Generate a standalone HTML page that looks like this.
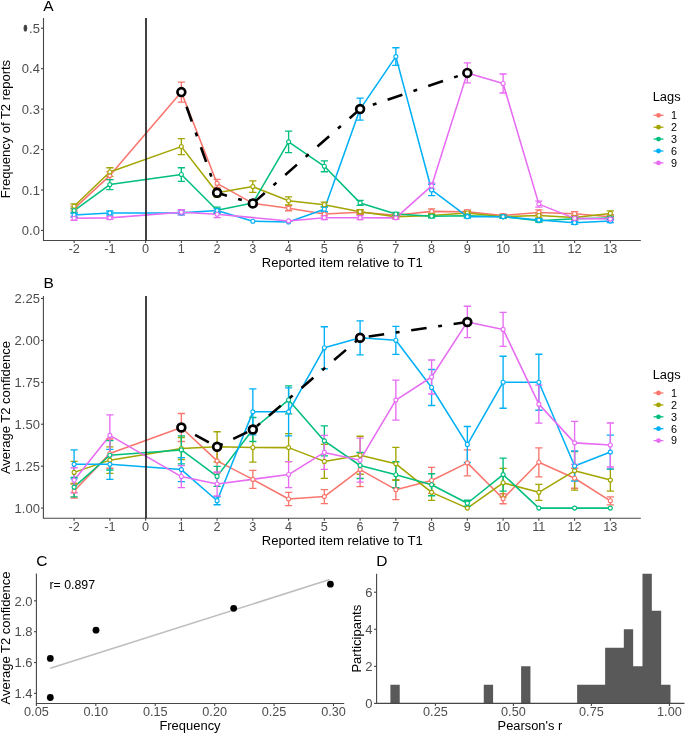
<!DOCTYPE html>
<html><head><meta charset="utf-8"><style>
html,body{margin:0;padding:0;background:#fff;width:685px;height:733px;overflow:hidden}
svg{display:block;will-change:transform}
text{font-family:"Liberation Sans",sans-serif}
</style></head><body>
<svg width="685" height="733" viewBox="0 0 685 733" font-family="Liberation Sans, sans-serif">
<rect width="685" height="733" fill="#fff"/>
<text x="43.30" y="10.90" font-size="15.5" fill="#000" text-anchor="start" >A</text>
<path d="M43.50,18.00 V240.50 H640.80" fill="none" stroke="#474747" stroke-width="1.1"/>
<line x1="41" y1="230.40" x2="43.5" y2="230.40" stroke="#474747" stroke-width="1.1"/>
<text x="39.90" y="235.10" font-size="13" fill="#4D4D4D" text-anchor="end" >0.0</text>
<line x1="41" y1="189.96" x2="43.5" y2="189.96" stroke="#474747" stroke-width="1.1"/>
<text x="39.90" y="194.66" font-size="13" fill="#4D4D4D" text-anchor="end" >0.1</text>
<line x1="41" y1="149.52" x2="43.5" y2="149.52" stroke="#474747" stroke-width="1.1"/>
<text x="39.90" y="154.22" font-size="13" fill="#4D4D4D" text-anchor="end" >0.2</text>
<line x1="41" y1="109.08" x2="43.5" y2="109.08" stroke="#474747" stroke-width="1.1"/>
<text x="39.90" y="113.78" font-size="13" fill="#4D4D4D" text-anchor="end" >0.3</text>
<line x1="41" y1="68.64" x2="43.5" y2="68.64" stroke="#474747" stroke-width="1.1"/>
<text x="39.90" y="73.34" font-size="13" fill="#4D4D4D" text-anchor="end" >0.4</text>
<line x1="41" y1="28.20" x2="43.5" y2="28.20" stroke="#474747" stroke-width="1.1"/>
<text x="39.90" y="32.90" font-size="13" fill="#4D4D4D" text-anchor="end" >.5</text>
<ellipse cx="25.4" cy="28.20" rx="1.8" ry="3.4" fill="#444"/>
<line x1="74.10" y1="240.5" x2="74.10" y2="243" stroke="#474747" stroke-width="1.1"/>
<text x="74.10" y="252.90" font-size="12.7" fill="#4D4D4D" text-anchor="middle" >-2</text>
<line x1="109.85" y1="240.5" x2="109.85" y2="243" stroke="#474747" stroke-width="1.1"/>
<text x="109.85" y="252.90" font-size="12.7" fill="#4D4D4D" text-anchor="middle" >-1</text>
<line x1="145.60" y1="240.5" x2="145.60" y2="243" stroke="#474747" stroke-width="1.1"/>
<text x="145.60" y="252.90" font-size="12.7" fill="#4D4D4D" text-anchor="middle" >0</text>
<line x1="181.35" y1="240.5" x2="181.35" y2="243" stroke="#474747" stroke-width="1.1"/>
<text x="181.35" y="252.90" font-size="12.7" fill="#4D4D4D" text-anchor="middle" >1</text>
<line x1="217.10" y1="240.5" x2="217.10" y2="243" stroke="#474747" stroke-width="1.1"/>
<text x="217.10" y="252.90" font-size="12.7" fill="#4D4D4D" text-anchor="middle" >2</text>
<line x1="252.85" y1="240.5" x2="252.85" y2="243" stroke="#474747" stroke-width="1.1"/>
<text x="252.85" y="252.90" font-size="12.7" fill="#4D4D4D" text-anchor="middle" >3</text>
<line x1="288.60" y1="240.5" x2="288.60" y2="243" stroke="#474747" stroke-width="1.1"/>
<text x="288.60" y="252.90" font-size="12.7" fill="#4D4D4D" text-anchor="middle" >4</text>
<line x1="324.35" y1="240.5" x2="324.35" y2="243" stroke="#474747" stroke-width="1.1"/>
<text x="324.35" y="252.90" font-size="12.7" fill="#4D4D4D" text-anchor="middle" >5</text>
<line x1="360.10" y1="240.5" x2="360.10" y2="243" stroke="#474747" stroke-width="1.1"/>
<text x="360.10" y="252.90" font-size="12.7" fill="#4D4D4D" text-anchor="middle" >6</text>
<line x1="395.85" y1="240.5" x2="395.85" y2="243" stroke="#474747" stroke-width="1.1"/>
<text x="395.85" y="252.90" font-size="12.7" fill="#4D4D4D" text-anchor="middle" >7</text>
<line x1="431.60" y1="240.5" x2="431.60" y2="243" stroke="#474747" stroke-width="1.1"/>
<text x="431.60" y="252.90" font-size="12.7" fill="#4D4D4D" text-anchor="middle" >8</text>
<line x1="467.35" y1="240.5" x2="467.35" y2="243" stroke="#474747" stroke-width="1.1"/>
<text x="467.35" y="252.90" font-size="12.7" fill="#4D4D4D" text-anchor="middle" >9</text>
<line x1="503.10" y1="240.5" x2="503.10" y2="243" stroke="#474747" stroke-width="1.1"/>
<text x="503.10" y="252.90" font-size="12.7" fill="#4D4D4D" text-anchor="middle" >10</text>
<line x1="538.85" y1="240.5" x2="538.85" y2="243" stroke="#474747" stroke-width="1.1"/>
<text x="538.85" y="252.90" font-size="12.7" fill="#4D4D4D" text-anchor="middle" >11</text>
<line x1="574.60" y1="240.5" x2="574.60" y2="243" stroke="#474747" stroke-width="1.1"/>
<text x="574.60" y="252.90" font-size="12.7" fill="#4D4D4D" text-anchor="middle" >12</text>
<line x1="610.35" y1="240.5" x2="610.35" y2="243" stroke="#474747" stroke-width="1.1"/>
<text x="610.35" y="252.90" font-size="12.7" fill="#4D4D4D" text-anchor="middle" >13</text>
<path d="M74.10,208.56 L109.85,175.60 L181.35,92.10 L217.10,183.41 L252.85,203.39 L288.60,208.28 L324.35,213.90 L360.10,212.20 L395.85,215.19 L431.60,211.39 L467.35,211.80 L503.10,215.44 L538.85,212.40 L574.60,213.70 L610.35,216.65" fill="none" stroke="#F8766D" stroke-width="1.55" stroke-linejoin="round"/>
<path d="M74.10,206.30 L109.85,172.00 L181.35,146.61 L217.10,192.71 L252.85,186.60 L288.60,200.80 L324.35,204.68 L360.10,211.72 L395.85,216.65 L431.60,215.44 L467.35,213.01 L503.10,216.65 L538.85,215.44 L574.60,217.46 L610.35,213.42" fill="none" stroke="#A3A500" stroke-width="1.55" stroke-linejoin="round"/>
<path d="M74.10,210.58 L109.85,184.58 L181.35,174.51 L217.10,210.18 L252.85,202.90 L288.60,141.84 L324.35,166.30 L360.10,202.90 L395.85,213.98 L431.60,216.25 L467.35,215.84 L503.10,216.65 L538.85,220.69 L574.60,218.67 L610.35,217.98" fill="none" stroke="#00BF7D" stroke-width="1.55" stroke-linejoin="round"/>
<path d="M74.10,215.03 L109.85,213.01 L181.35,212.89 L217.10,210.58 L252.85,221.30 L288.60,221.91 L324.35,209.21 L360.10,109.08 L395.85,56.59 L431.60,189.96 L467.35,216.65 L503.10,216.65 L538.85,220.09 L574.60,222.72 L610.35,221.10" fill="none" stroke="#00B0F6" stroke-width="1.55" stroke-linejoin="round"/>
<path d="M74.10,218.27 L109.85,217.86 L181.35,212.28 L217.10,214.22 L288.60,220.90 L324.35,217.66 L360.10,217.66 L395.85,217.86 L431.60,185.92 L467.35,72.89 L503.10,83.48 L538.85,204.11 L574.60,218.39 L610.35,219.08" fill="none" stroke="#E76BF3" stroke-width="1.55" stroke-linejoin="round"/>
<path d="M74.10,206.06 V211.06 M70.50,206.06 H77.70 M70.50,211.06 H77.70" fill="none" stroke="#F8766D" stroke-width="1.35"/>
<path d="M109.85,171.60 V179.60 M106.25,171.60 H113.45 M106.25,179.60 H113.45" fill="none" stroke="#F8766D" stroke-width="1.35"/>
<path d="M181.35,82.10 V102.10 M177.75,82.10 H184.95 M177.75,102.10 H184.95" fill="none" stroke="#F8766D" stroke-width="1.35"/>
<path d="M217.10,179.41 V187.41 M213.50,179.41 H220.70 M213.50,187.41 H220.70" fill="none" stroke="#F8766D" stroke-width="1.35"/>
<path d="M252.85,199.89 V206.89 M249.25,199.89 H256.45 M249.25,206.89 H256.45" fill="none" stroke="#F8766D" stroke-width="1.35"/>
<path d="M288.60,205.78 V210.78 M285.00,205.78 H292.20 M285.00,210.78 H292.20" fill="none" stroke="#F8766D" stroke-width="1.35"/>
<path d="M324.35,211.90 V215.90 M320.75,211.90 H327.95 M320.75,215.90 H327.95" fill="none" stroke="#F8766D" stroke-width="1.35"/>
<path d="M360.10,210.20 V214.20 M356.50,210.20 H363.70 M356.50,214.20 H363.70" fill="none" stroke="#F8766D" stroke-width="1.35"/>
<path d="M395.85,213.69 V216.69 M392.25,213.69 H399.45 M392.25,216.69 H399.45" fill="none" stroke="#F8766D" stroke-width="1.35"/>
<path d="M431.60,208.89 V213.89 M428.00,208.89 H435.20 M428.00,213.89 H435.20" fill="none" stroke="#F8766D" stroke-width="1.35"/>
<path d="M467.35,209.80 V213.80 M463.75,209.80 H470.95 M463.75,213.80 H470.95" fill="none" stroke="#F8766D" stroke-width="1.35"/>
<path d="M503.10,213.94 V216.94 M499.50,213.94 H506.70 M499.50,216.94 H506.70" fill="none" stroke="#F8766D" stroke-width="1.35"/>
<path d="M538.85,209.90 V214.90 M535.25,209.90 H542.45 M535.25,214.90 H542.45" fill="none" stroke="#F8766D" stroke-width="1.35"/>
<path d="M574.60,211.70 V215.70 M571.00,211.70 H578.20 M571.00,215.70 H578.20" fill="none" stroke="#F8766D" stroke-width="1.35"/>
<path d="M610.35,214.65 V218.65 M606.75,214.65 H613.95 M606.75,218.65 H613.95" fill="none" stroke="#F8766D" stroke-width="1.35"/>
<path d="M74.10,203.80 V208.80 M70.50,203.80 H77.70 M70.50,208.80 H77.70" fill="none" stroke="#A3A500" stroke-width="1.35"/>
<path d="M109.85,167.70 V176.30 M106.25,167.70 H113.45 M106.25,176.30 H113.45" fill="none" stroke="#A3A500" stroke-width="1.35"/>
<path d="M181.35,138.61 V154.61 M177.75,138.61 H184.95 M177.75,154.61 H184.95" fill="none" stroke="#A3A500" stroke-width="1.35"/>
<path d="M217.10,188.71 V196.71 M213.50,188.71 H220.70 M213.50,196.71 H220.70" fill="none" stroke="#A3A500" stroke-width="1.35"/>
<path d="M252.85,180.80 V192.40 M249.25,180.80 H256.45 M249.25,192.40 H256.45" fill="none" stroke="#A3A500" stroke-width="1.35"/>
<path d="M288.60,196.80 V204.80 M285.00,196.80 H292.20 M285.00,204.80 H292.20" fill="none" stroke="#A3A500" stroke-width="1.35"/>
<path d="M324.35,202.18 V207.18 M320.75,202.18 H327.95 M320.75,207.18 H327.95" fill="none" stroke="#A3A500" stroke-width="1.35"/>
<path d="M360.10,209.72 V213.72 M356.50,209.72 H363.70 M356.50,213.72 H363.70" fill="none" stroke="#A3A500" stroke-width="1.35"/>
<path d="M395.85,215.15 V218.15 M392.25,215.15 H399.45 M392.25,218.15 H399.45" fill="none" stroke="#A3A500" stroke-width="1.35"/>
<path d="M431.60,213.44 V217.44 M428.00,213.44 H435.20 M428.00,217.44 H435.20" fill="none" stroke="#A3A500" stroke-width="1.35"/>
<path d="M467.35,211.01 V215.01 M463.75,211.01 H470.95 M463.75,215.01 H470.95" fill="none" stroke="#A3A500" stroke-width="1.35"/>
<path d="M503.10,215.15 V218.15 M499.50,215.15 H506.70 M499.50,218.15 H506.70" fill="none" stroke="#A3A500" stroke-width="1.35"/>
<path d="M538.85,212.94 V217.94 M535.25,212.94 H542.45 M535.25,217.94 H542.45" fill="none" stroke="#A3A500" stroke-width="1.35"/>
<path d="M574.60,215.46 V219.46 M571.00,215.46 H578.20 M571.00,219.46 H578.20" fill="none" stroke="#A3A500" stroke-width="1.35"/>
<path d="M610.35,210.92 V215.92 M606.75,210.92 H613.95 M606.75,215.92 H613.95" fill="none" stroke="#A3A500" stroke-width="1.35"/>
<path d="M74.10,208.08 V213.08 M70.50,208.08 H77.70 M70.50,213.08 H77.70" fill="none" stroke="#00BF7D" stroke-width="1.35"/>
<path d="M109.85,179.58 V189.58 M106.25,179.58 H113.45 M106.25,189.58 H113.45" fill="none" stroke="#00BF7D" stroke-width="1.35"/>
<path d="M181.35,167.71 V181.31 M177.75,167.71 H184.95 M177.75,181.31 H184.95" fill="none" stroke="#00BF7D" stroke-width="1.35"/>
<path d="M217.10,207.18 V213.18 M213.50,207.18 H220.70 M213.50,213.18 H220.70" fill="none" stroke="#00BF7D" stroke-width="1.35"/>
<path d="M252.85,199.90 V205.90 M249.25,199.90 H256.45 M249.25,205.90 H256.45" fill="none" stroke="#00BF7D" stroke-width="1.35"/>
<path d="M288.60,131.09 V152.59 M285.00,131.09 H292.20 M285.00,152.59 H292.20" fill="none" stroke="#00BF7D" stroke-width="1.35"/>
<path d="M324.35,160.90 V171.70 M320.75,160.90 H327.95 M320.75,171.70 H327.95" fill="none" stroke="#00BF7D" stroke-width="1.35"/>
<path d="M360.10,200.40 V205.40 M356.50,200.40 H363.70 M356.50,205.40 H363.70" fill="none" stroke="#00BF7D" stroke-width="1.35"/>
<path d="M395.85,212.48 V215.48 M392.25,212.48 H399.45 M392.25,215.48 H399.45" fill="none" stroke="#00BF7D" stroke-width="1.35"/>
<path d="M431.60,214.75 V217.75 M428.00,214.75 H435.20 M428.00,217.75 H435.20" fill="none" stroke="#00BF7D" stroke-width="1.35"/>
<path d="M467.35,214.34 V217.34 M463.75,214.34 H470.95 M463.75,217.34 H470.95" fill="none" stroke="#00BF7D" stroke-width="1.35"/>
<path d="M503.10,215.15 V218.15 M499.50,215.15 H506.70 M499.50,218.15 H506.70" fill="none" stroke="#00BF7D" stroke-width="1.35"/>
<path d="M538.85,219.19 V222.19 M535.25,219.19 H542.45 M535.25,222.19 H542.45" fill="none" stroke="#00BF7D" stroke-width="1.35"/>
<path d="M574.60,217.17 V220.17 M571.00,217.17 H578.20 M571.00,220.17 H578.20" fill="none" stroke="#00BF7D" stroke-width="1.35"/>
<path d="M610.35,216.48 V219.48 M606.75,216.48 H613.95 M606.75,219.48 H613.95" fill="none" stroke="#00BF7D" stroke-width="1.35"/>
<path d="M74.10,213.03 V217.03 M70.50,213.03 H77.70 M70.50,217.03 H77.70" fill="none" stroke="#00B0F6" stroke-width="1.35"/>
<path d="M109.85,211.01 V215.01 M106.25,211.01 H113.45 M106.25,215.01 H113.45" fill="none" stroke="#00B0F6" stroke-width="1.35"/>
<path d="M181.35,210.89 V214.89 M177.75,210.89 H184.95 M177.75,214.89 H184.95" fill="none" stroke="#00B0F6" stroke-width="1.35"/>
<path d="M217.10,208.58 V212.58 M213.50,208.58 H220.70 M213.50,212.58 H220.70" fill="none" stroke="#00B0F6" stroke-width="1.35"/>
<path d="M324.35,206.71 V211.71 M320.75,206.71 H327.95 M320.75,211.71 H327.95" fill="none" stroke="#00B0F6" stroke-width="1.35"/>
<path d="M360.10,98.08 V120.08 M356.50,98.08 H363.70 M356.50,120.08 H363.70" fill="none" stroke="#00B0F6" stroke-width="1.35"/>
<path d="M395.85,47.79 V65.39 M392.25,47.79 H399.45 M392.25,65.39 H399.45" fill="none" stroke="#00B0F6" stroke-width="1.35"/>
<path d="M431.60,184.26 V195.66 M428.00,184.26 H435.20 M428.00,195.66 H435.20" fill="none" stroke="#00B0F6" stroke-width="1.35"/>
<path d="M467.35,215.15 V218.15 M463.75,215.15 H470.95 M463.75,218.15 H470.95" fill="none" stroke="#00B0F6" stroke-width="1.35"/>
<path d="M503.10,215.15 V218.15 M499.50,215.15 H506.70 M499.50,218.15 H506.70" fill="none" stroke="#00B0F6" stroke-width="1.35"/>
<path d="M538.85,218.59 V221.59 M535.25,218.59 H542.45 M535.25,221.59 H542.45" fill="none" stroke="#00B0F6" stroke-width="1.35"/>
<path d="M574.60,221.22 V224.22 M571.00,221.22 H578.20 M571.00,224.22 H578.20" fill="none" stroke="#00B0F6" stroke-width="1.35"/>
<path d="M610.35,219.60 V222.60 M606.75,219.60 H613.95 M606.75,222.60 H613.95" fill="none" stroke="#00B0F6" stroke-width="1.35"/>
<path d="M74.10,216.27 V220.27 M70.50,216.27 H77.70 M70.50,220.27 H77.70" fill="none" stroke="#E76BF3" stroke-width="1.35"/>
<path d="M109.85,216.36 V219.36 M106.25,216.36 H113.45 M106.25,219.36 H113.45" fill="none" stroke="#E76BF3" stroke-width="1.35"/>
<path d="M181.35,209.78 V214.78 M177.75,209.78 H184.95 M177.75,214.78 H184.95" fill="none" stroke="#E76BF3" stroke-width="1.35"/>
<path d="M217.10,210.82 V217.62 M213.50,210.82 H220.70 M213.50,217.62 H220.70" fill="none" stroke="#E76BF3" stroke-width="1.35"/>
<path d="M324.35,215.66 V219.66 M320.75,215.66 H327.95 M320.75,219.66 H327.95" fill="none" stroke="#E76BF3" stroke-width="1.35"/>
<path d="M360.10,215.66 V219.66 M356.50,215.66 H363.70 M356.50,219.66 H363.70" fill="none" stroke="#E76BF3" stroke-width="1.35"/>
<path d="M395.85,216.36 V219.36 M392.25,216.36 H399.45 M392.25,219.36 H399.45" fill="none" stroke="#E76BF3" stroke-width="1.35"/>
<path d="M431.60,182.92 V188.92 M428.00,182.92 H435.20 M428.00,188.92 H435.20" fill="none" stroke="#E76BF3" stroke-width="1.35"/>
<path d="M467.35,62.89 V82.89 M463.75,62.89 H470.95 M463.75,82.89 H470.95" fill="none" stroke="#E76BF3" stroke-width="1.35"/>
<path d="M503.10,73.98 V92.98 M499.50,73.98 H506.70 M499.50,92.98 H506.70" fill="none" stroke="#E76BF3" stroke-width="1.35"/>
<path d="M538.85,201.11 V207.11 M535.25,201.11 H542.45 M535.25,207.11 H542.45" fill="none" stroke="#E76BF3" stroke-width="1.35"/>
<path d="M574.60,216.39 V220.39 M571.00,216.39 H578.20 M571.00,220.39 H578.20" fill="none" stroke="#E76BF3" stroke-width="1.35"/>
<path d="M610.35,217.58 V220.58 M606.75,217.58 H613.95 M606.75,220.58 H613.95" fill="none" stroke="#E76BF3" stroke-width="1.35"/>
<circle cx="74.10" cy="208.56" r="2.0" fill="#fff" stroke="#F8766D" stroke-width="1.1"/>
<circle cx="109.85" cy="175.60" r="2.0" fill="#fff" stroke="#F8766D" stroke-width="1.1"/>
<circle cx="181.35" cy="92.10" r="2.0" fill="#fff" stroke="#F8766D" stroke-width="1.1"/>
<circle cx="217.10" cy="183.41" r="2.0" fill="#fff" stroke="#F8766D" stroke-width="1.1"/>
<circle cx="252.85" cy="203.39" r="2.0" fill="#fff" stroke="#F8766D" stroke-width="1.1"/>
<circle cx="288.60" cy="208.28" r="2.0" fill="#fff" stroke="#F8766D" stroke-width="1.1"/>
<circle cx="324.35" cy="213.90" r="2.0" fill="#fff" stroke="#F8766D" stroke-width="1.1"/>
<circle cx="360.10" cy="212.20" r="2.0" fill="#fff" stroke="#F8766D" stroke-width="1.1"/>
<circle cx="395.85" cy="215.19" r="2.0" fill="#fff" stroke="#F8766D" stroke-width="1.1"/>
<circle cx="431.60" cy="211.39" r="2.0" fill="#fff" stroke="#F8766D" stroke-width="1.1"/>
<circle cx="467.35" cy="211.80" r="2.0" fill="#fff" stroke="#F8766D" stroke-width="1.1"/>
<circle cx="503.10" cy="215.44" r="2.0" fill="#fff" stroke="#F8766D" stroke-width="1.1"/>
<circle cx="538.85" cy="212.40" r="2.0" fill="#fff" stroke="#F8766D" stroke-width="1.1"/>
<circle cx="574.60" cy="213.70" r="2.0" fill="#fff" stroke="#F8766D" stroke-width="1.1"/>
<circle cx="610.35" cy="216.65" r="2.0" fill="#fff" stroke="#F8766D" stroke-width="1.1"/>
<circle cx="74.10" cy="206.30" r="2.0" fill="#fff" stroke="#A3A500" stroke-width="1.1"/>
<circle cx="109.85" cy="172.00" r="2.0" fill="#fff" stroke="#A3A500" stroke-width="1.1"/>
<circle cx="181.35" cy="146.61" r="2.0" fill="#fff" stroke="#A3A500" stroke-width="1.1"/>
<circle cx="217.10" cy="192.71" r="2.0" fill="#fff" stroke="#A3A500" stroke-width="1.1"/>
<circle cx="252.85" cy="186.60" r="2.0" fill="#fff" stroke="#A3A500" stroke-width="1.1"/>
<circle cx="288.60" cy="200.80" r="2.0" fill="#fff" stroke="#A3A500" stroke-width="1.1"/>
<circle cx="324.35" cy="204.68" r="2.0" fill="#fff" stroke="#A3A500" stroke-width="1.1"/>
<circle cx="360.10" cy="211.72" r="2.0" fill="#fff" stroke="#A3A500" stroke-width="1.1"/>
<circle cx="395.85" cy="216.65" r="2.0" fill="#fff" stroke="#A3A500" stroke-width="1.1"/>
<circle cx="431.60" cy="215.44" r="2.0" fill="#fff" stroke="#A3A500" stroke-width="1.1"/>
<circle cx="467.35" cy="213.01" r="2.0" fill="#fff" stroke="#A3A500" stroke-width="1.1"/>
<circle cx="503.10" cy="216.65" r="2.0" fill="#fff" stroke="#A3A500" stroke-width="1.1"/>
<circle cx="538.85" cy="215.44" r="2.0" fill="#fff" stroke="#A3A500" stroke-width="1.1"/>
<circle cx="574.60" cy="217.46" r="2.0" fill="#fff" stroke="#A3A500" stroke-width="1.1"/>
<circle cx="610.35" cy="213.42" r="2.0" fill="#fff" stroke="#A3A500" stroke-width="1.1"/>
<circle cx="74.10" cy="210.58" r="2.0" fill="#fff" stroke="#00BF7D" stroke-width="1.1"/>
<circle cx="109.85" cy="184.58" r="2.0" fill="#fff" stroke="#00BF7D" stroke-width="1.1"/>
<circle cx="181.35" cy="174.51" r="2.0" fill="#fff" stroke="#00BF7D" stroke-width="1.1"/>
<circle cx="217.10" cy="210.18" r="2.0" fill="#fff" stroke="#00BF7D" stroke-width="1.1"/>
<circle cx="252.85" cy="202.90" r="2.0" fill="#fff" stroke="#00BF7D" stroke-width="1.1"/>
<circle cx="288.60" cy="141.84" r="2.0" fill="#fff" stroke="#00BF7D" stroke-width="1.1"/>
<circle cx="324.35" cy="166.30" r="2.0" fill="#fff" stroke="#00BF7D" stroke-width="1.1"/>
<circle cx="360.10" cy="202.90" r="2.0" fill="#fff" stroke="#00BF7D" stroke-width="1.1"/>
<circle cx="395.85" cy="213.98" r="2.0" fill="#fff" stroke="#00BF7D" stroke-width="1.1"/>
<circle cx="431.60" cy="216.25" r="2.0" fill="#fff" stroke="#00BF7D" stroke-width="1.1"/>
<circle cx="467.35" cy="215.84" r="2.0" fill="#fff" stroke="#00BF7D" stroke-width="1.1"/>
<circle cx="503.10" cy="216.65" r="2.0" fill="#fff" stroke="#00BF7D" stroke-width="1.1"/>
<circle cx="538.85" cy="220.69" r="2.0" fill="#fff" stroke="#00BF7D" stroke-width="1.1"/>
<circle cx="574.60" cy="218.67" r="2.0" fill="#fff" stroke="#00BF7D" stroke-width="1.1"/>
<circle cx="610.35" cy="217.98" r="2.0" fill="#fff" stroke="#00BF7D" stroke-width="1.1"/>
<circle cx="74.10" cy="215.03" r="2.0" fill="#fff" stroke="#00B0F6" stroke-width="1.1"/>
<circle cx="109.85" cy="213.01" r="2.0" fill="#fff" stroke="#00B0F6" stroke-width="1.1"/>
<circle cx="181.35" cy="212.89" r="2.0" fill="#fff" stroke="#00B0F6" stroke-width="1.1"/>
<circle cx="217.10" cy="210.58" r="2.0" fill="#fff" stroke="#00B0F6" stroke-width="1.1"/>
<circle cx="252.85" cy="221.30" r="2.0" fill="#fff" stroke="#00B0F6" stroke-width="1.1"/>
<circle cx="288.60" cy="221.91" r="2.0" fill="#fff" stroke="#00B0F6" stroke-width="1.1"/>
<circle cx="324.35" cy="209.21" r="2.0" fill="#fff" stroke="#00B0F6" stroke-width="1.1"/>
<circle cx="360.10" cy="109.08" r="2.0" fill="#fff" stroke="#00B0F6" stroke-width="1.1"/>
<circle cx="395.85" cy="56.59" r="2.0" fill="#fff" stroke="#00B0F6" stroke-width="1.1"/>
<circle cx="431.60" cy="189.96" r="2.0" fill="#fff" stroke="#00B0F6" stroke-width="1.1"/>
<circle cx="467.35" cy="216.65" r="2.0" fill="#fff" stroke="#00B0F6" stroke-width="1.1"/>
<circle cx="503.10" cy="216.65" r="2.0" fill="#fff" stroke="#00B0F6" stroke-width="1.1"/>
<circle cx="538.85" cy="220.09" r="2.0" fill="#fff" stroke="#00B0F6" stroke-width="1.1"/>
<circle cx="574.60" cy="222.72" r="2.0" fill="#fff" stroke="#00B0F6" stroke-width="1.1"/>
<circle cx="610.35" cy="221.10" r="2.0" fill="#fff" stroke="#00B0F6" stroke-width="1.1"/>
<circle cx="74.10" cy="218.27" r="2.0" fill="#fff" stroke="#E76BF3" stroke-width="1.1"/>
<circle cx="109.85" cy="217.86" r="2.0" fill="#fff" stroke="#E76BF3" stroke-width="1.1"/>
<circle cx="181.35" cy="212.28" r="2.0" fill="#fff" stroke="#E76BF3" stroke-width="1.1"/>
<circle cx="217.10" cy="214.22" r="2.0" fill="#fff" stroke="#E76BF3" stroke-width="1.1"/>
<circle cx="288.60" cy="220.90" r="2.0" fill="#fff" stroke="#E76BF3" stroke-width="1.1"/>
<circle cx="324.35" cy="217.66" r="2.0" fill="#fff" stroke="#E76BF3" stroke-width="1.1"/>
<circle cx="360.10" cy="217.66" r="2.0" fill="#fff" stroke="#E76BF3" stroke-width="1.1"/>
<circle cx="395.85" cy="217.86" r="2.0" fill="#fff" stroke="#E76BF3" stroke-width="1.1"/>
<circle cx="431.60" cy="185.92" r="2.0" fill="#fff" stroke="#E76BF3" stroke-width="1.1"/>
<circle cx="467.35" cy="72.89" r="2.0" fill="#fff" stroke="#E76BF3" stroke-width="1.1"/>
<circle cx="503.10" cy="83.48" r="2.0" fill="#fff" stroke="#E76BF3" stroke-width="1.1"/>
<circle cx="538.85" cy="204.11" r="2.0" fill="#fff" stroke="#E76BF3" stroke-width="1.1"/>
<circle cx="574.60" cy="218.39" r="2.0" fill="#fff" stroke="#E76BF3" stroke-width="1.1"/>
<circle cx="610.35" cy="219.08" r="2.0" fill="#fff" stroke="#E76BF3" stroke-width="1.1"/>
<path d="M181.35,92.10 L217.10,192.71 L252.85,203.39 L360.10,109.08 L467.35,72.89" fill="none" stroke="#000" stroke-width="2.6" stroke-dasharray="3.9 11.7 15.6 11.7" stroke-dashoffset="0"/>
<circle cx="181.35" cy="92.10" r="3.9" fill="#fff" stroke="#000" stroke-width="2.7"/>
<circle cx="217.10" cy="192.71" r="3.9" fill="#fff" stroke="#000" stroke-width="2.7"/>
<circle cx="252.85" cy="203.39" r="3.9" fill="#fff" stroke="#000" stroke-width="2.7"/>
<circle cx="360.10" cy="109.08" r="3.9" fill="#fff" stroke="#000" stroke-width="2.7"/>
<circle cx="467.35" cy="72.89" r="3.9" fill="#fff" stroke="#000" stroke-width="2.7"/>
<line x1="146.0" y1="18" x2="146.0" y2="240.5" stroke="#1a1a1a" stroke-width="1.65"/>
<text x="261.70" y="266.80" font-size="12.3" fill="#000" text-anchor="start" textLength="161.1" lengthAdjust="spacingAndGlyphs" >Reported item relative to T1</text>
<text transform="translate(9.9,198.2) rotate(-90)" font-size="12.3" fill="#000" textLength="138.3" lengthAdjust="spacingAndGlyphs">Frequency of T2 reports</text>
<text x="652.70" y="101.30" font-size="12.5" fill="#000" text-anchor="start" textLength="27.9" lengthAdjust="spacingAndGlyphs" >Lags</text>
<line x1="653.6" y1="115.30" x2="663.4" y2="115.30" stroke="#F8766D" stroke-width="1.3"/>
<circle cx="658.5" cy="115.30" r="2.4" fill="#F8766D"/>
<text x="670.90" y="119.10" font-size="10.8" fill="#000" text-anchor="start" >1</text>
<line x1="653.6" y1="127.20" x2="663.4" y2="127.20" stroke="#A3A500" stroke-width="1.3"/>
<circle cx="658.5" cy="127.20" r="2.4" fill="#A3A500"/>
<text x="670.90" y="131.00" font-size="10.8" fill="#000" text-anchor="start" >2</text>
<line x1="653.6" y1="139.10" x2="663.4" y2="139.10" stroke="#00BF7D" stroke-width="1.3"/>
<circle cx="658.5" cy="139.10" r="2.4" fill="#00BF7D"/>
<text x="670.90" y="142.90" font-size="10.8" fill="#000" text-anchor="start" >3</text>
<line x1="653.6" y1="151.00" x2="663.4" y2="151.00" stroke="#00B0F6" stroke-width="1.3"/>
<circle cx="658.5" cy="151.00" r="2.4" fill="#00B0F6"/>
<text x="670.90" y="154.80" font-size="10.8" fill="#000" text-anchor="start" >6</text>
<line x1="653.6" y1="162.90" x2="663.4" y2="162.90" stroke="#E76BF3" stroke-width="1.3"/>
<circle cx="658.5" cy="162.90" r="2.4" fill="#E76BF3"/>
<text x="670.90" y="166.70" font-size="10.8" fill="#000" text-anchor="start" >9</text>
<text x="43.40" y="288.40" font-size="15.5" fill="#000" text-anchor="start" >B</text>
<path d="M43.40,296.00 V518.30 H640.80" fill="none" stroke="#474747" stroke-width="1.1"/>
<line x1="41" y1="508.10" x2="43.4" y2="508.10" stroke="#474747" stroke-width="1.1"/>
<text x="39.90" y="512.80" font-size="13" fill="#4D4D4D" text-anchor="end" >1.00</text>
<line x1="41" y1="466.18" x2="43.4" y2="466.18" stroke="#474747" stroke-width="1.1"/>
<text x="39.90" y="470.88" font-size="13" fill="#4D4D4D" text-anchor="end" >1.25</text>
<line x1="41" y1="424.25" x2="43.4" y2="424.25" stroke="#474747" stroke-width="1.1"/>
<text x="39.90" y="428.95" font-size="13" fill="#4D4D4D" text-anchor="end" >1.50</text>
<line x1="41" y1="382.33" x2="43.4" y2="382.33" stroke="#474747" stroke-width="1.1"/>
<text x="39.90" y="387.03" font-size="13" fill="#4D4D4D" text-anchor="end" >1.75</text>
<line x1="41" y1="340.40" x2="43.4" y2="340.40" stroke="#474747" stroke-width="1.1"/>
<text x="39.90" y="345.10" font-size="13" fill="#4D4D4D" text-anchor="end" >2.00</text>
<line x1="41" y1="298.48" x2="43.4" y2="298.48" stroke="#474747" stroke-width="1.1"/>
<text x="39.90" y="303.18" font-size="13" fill="#4D4D4D" text-anchor="end" >2.25</text>
<line x1="74.10" y1="518.3" x2="74.10" y2="520.8" stroke="#474747" stroke-width="1.1"/>
<text x="74.10" y="531.00" font-size="12.7" fill="#4D4D4D" text-anchor="middle" >-2</text>
<line x1="109.85" y1="518.3" x2="109.85" y2="520.8" stroke="#474747" stroke-width="1.1"/>
<text x="109.85" y="531.00" font-size="12.7" fill="#4D4D4D" text-anchor="middle" >-1</text>
<line x1="145.60" y1="518.3" x2="145.60" y2="520.8" stroke="#474747" stroke-width="1.1"/>
<text x="145.60" y="531.00" font-size="12.7" fill="#4D4D4D" text-anchor="middle" >0</text>
<line x1="181.35" y1="518.3" x2="181.35" y2="520.8" stroke="#474747" stroke-width="1.1"/>
<text x="181.35" y="531.00" font-size="12.7" fill="#4D4D4D" text-anchor="middle" >1</text>
<line x1="217.10" y1="518.3" x2="217.10" y2="520.8" stroke="#474747" stroke-width="1.1"/>
<text x="217.10" y="531.00" font-size="12.7" fill="#4D4D4D" text-anchor="middle" >2</text>
<line x1="252.85" y1="518.3" x2="252.85" y2="520.8" stroke="#474747" stroke-width="1.1"/>
<text x="252.85" y="531.00" font-size="12.7" fill="#4D4D4D" text-anchor="middle" >3</text>
<line x1="288.60" y1="518.3" x2="288.60" y2="520.8" stroke="#474747" stroke-width="1.1"/>
<text x="288.60" y="531.00" font-size="12.7" fill="#4D4D4D" text-anchor="middle" >4</text>
<line x1="324.35" y1="518.3" x2="324.35" y2="520.8" stroke="#474747" stroke-width="1.1"/>
<text x="324.35" y="531.00" font-size="12.7" fill="#4D4D4D" text-anchor="middle" >5</text>
<line x1="360.10" y1="518.3" x2="360.10" y2="520.8" stroke="#474747" stroke-width="1.1"/>
<text x="360.10" y="531.00" font-size="12.7" fill="#4D4D4D" text-anchor="middle" >6</text>
<line x1="395.85" y1="518.3" x2="395.85" y2="520.8" stroke="#474747" stroke-width="1.1"/>
<text x="395.85" y="531.00" font-size="12.7" fill="#4D4D4D" text-anchor="middle" >7</text>
<line x1="431.60" y1="518.3" x2="431.60" y2="520.8" stroke="#474747" stroke-width="1.1"/>
<text x="431.60" y="531.00" font-size="12.7" fill="#4D4D4D" text-anchor="middle" >8</text>
<line x1="467.35" y1="518.3" x2="467.35" y2="520.8" stroke="#474747" stroke-width="1.1"/>
<text x="467.35" y="531.00" font-size="12.7" fill="#4D4D4D" text-anchor="middle" >9</text>
<line x1="503.10" y1="518.3" x2="503.10" y2="520.8" stroke="#474747" stroke-width="1.1"/>
<text x="503.10" y="531.00" font-size="12.7" fill="#4D4D4D" text-anchor="middle" >10</text>
<line x1="538.85" y1="518.3" x2="538.85" y2="520.8" stroke="#474747" stroke-width="1.1"/>
<text x="538.85" y="531.00" font-size="12.7" fill="#4D4D4D" text-anchor="middle" >11</text>
<line x1="574.60" y1="518.3" x2="574.60" y2="520.8" stroke="#474747" stroke-width="1.1"/>
<text x="574.60" y="531.00" font-size="12.7" fill="#4D4D4D" text-anchor="middle" >12</text>
<line x1="610.35" y1="518.3" x2="610.35" y2="520.8" stroke="#474747" stroke-width="1.1"/>
<text x="610.35" y="531.00" font-size="12.7" fill="#4D4D4D" text-anchor="middle" >13</text>
<path d="M74.10,490.99 L109.85,453.60 L181.35,427.50 L217.10,460.89 L252.85,479.42 L288.60,499.04 L324.35,496.60 L360.10,469.60 L395.85,489.65 L431.60,480.43 L467.35,462.90 L503.10,498.71 L538.85,462.32 L574.60,478.25 L610.35,500.81" fill="none" stroke="#F8766D" stroke-width="1.55" stroke-linejoin="round"/>
<path d="M74.10,472.38 L109.85,460.14 L181.35,448.50 L217.10,446.72 L252.85,447.56 L288.60,447.61 L324.35,461.40 L360.10,455.29 L395.85,463.83 L431.60,492.34 L467.35,508.10 L503.10,482.78 L538.85,492.34 L574.60,470.87 L610.35,480.09" fill="none" stroke="#A3A500" stroke-width="1.55" stroke-linejoin="round"/>
<path d="M74.10,487.14 L109.85,455.27 L181.35,449.91 L217.10,476.40 L252.85,429.50 L288.60,399.93 L324.35,440.90 L360.10,465.50 L395.85,474.73 L431.60,484.79 L467.35,503.24 L503.10,474.59 L538.85,508.10 L574.60,508.10 L610.35,508.10" fill="none" stroke="#00BF7D" stroke-width="1.55" stroke-linejoin="round"/>
<path d="M74.10,464.33 L109.85,464.33 L181.35,469.60 L217.10,500.72 L252.85,411.84 L288.60,411.84 L324.35,347.78 L360.10,337.80 L395.85,340.30 L431.60,387.52 L467.35,444.54 L503.10,382.21 L538.85,382.21 L574.60,466.01 L610.35,452.09" fill="none" stroke="#00B0F6" stroke-width="1.55" stroke-linejoin="round"/>
<path d="M74.10,480.26 L109.85,435.40 L181.35,476.57 L217.10,484.00 L288.60,474.56 L324.35,452.42 L360.10,460.19 L395.85,400.10 L431.60,376.99 L467.35,321.95 L503.10,329.40 L538.85,404.13 L574.60,442.86 L610.35,445.04" fill="none" stroke="#E76BF3" stroke-width="1.55" stroke-linejoin="round"/>
<path d="M74.10,483.99 V497.99 M70.50,483.99 H77.70 M70.50,497.99 H77.70" fill="none" stroke="#F8766D" stroke-width="1.35"/>
<path d="M109.85,439.00 V468.20 M106.25,439.00 H113.45 M106.25,468.20 H113.45" fill="none" stroke="#F8766D" stroke-width="1.35"/>
<path d="M181.35,413.50 V441.50 M177.75,413.50 H184.95 M177.75,441.50 H184.95" fill="none" stroke="#F8766D" stroke-width="1.35"/>
<path d="M217.10,448.89 V472.89 M213.50,448.89 H220.70 M213.50,472.89 H220.70" fill="none" stroke="#F8766D" stroke-width="1.35"/>
<path d="M252.85,470.42 V488.42 M249.25,470.42 H256.45 M249.25,488.42 H256.45" fill="none" stroke="#F8766D" stroke-width="1.35"/>
<path d="M288.60,492.44 V505.64 M285.00,492.44 H292.20 M285.00,505.64 H292.20" fill="none" stroke="#F8766D" stroke-width="1.35"/>
<path d="M324.35,489.60 V503.60 M320.75,489.60 H327.95 M320.75,503.60 H327.95" fill="none" stroke="#F8766D" stroke-width="1.35"/>
<path d="M360.10,452.60 V486.60 M356.50,452.60 H363.70 M356.50,486.60 H363.70" fill="none" stroke="#F8766D" stroke-width="1.35"/>
<path d="M395.85,479.65 V499.65 M392.25,479.65 H399.45 M392.25,499.65 H399.45" fill="none" stroke="#F8766D" stroke-width="1.35"/>
<path d="M431.60,467.43 V493.43 M428.00,467.43 H435.20 M428.00,493.43 H435.20" fill="none" stroke="#F8766D" stroke-width="1.35"/>
<path d="M467.35,449.90 V475.90 M463.75,449.90 H470.95 M463.75,475.90 H470.95" fill="none" stroke="#F8766D" stroke-width="1.35"/>
<path d="M503.10,493.71 V503.71 M499.50,493.71 H506.70 M499.50,503.71 H506.70" fill="none" stroke="#F8766D" stroke-width="1.35"/>
<path d="M538.85,447.82 V476.82 M535.25,447.82 H542.45 M535.25,476.82 H542.45" fill="none" stroke="#F8766D" stroke-width="1.35"/>
<path d="M574.60,468.25 V488.25 M571.00,468.25 H578.20 M571.00,488.25 H578.20" fill="none" stroke="#F8766D" stroke-width="1.35"/>
<path d="M610.35,496.81 V504.81 M606.75,496.81 H613.95 M606.75,504.81 H613.95" fill="none" stroke="#F8766D" stroke-width="1.35"/>
<path d="M74.10,461.38 V483.38 M70.50,461.38 H77.70 M70.50,483.38 H77.70" fill="none" stroke="#A3A500" stroke-width="1.35"/>
<path d="M109.85,446.94 V473.34 M106.25,446.94 H113.45 M106.25,473.34 H113.45" fill="none" stroke="#A3A500" stroke-width="1.35"/>
<path d="M181.35,437.50 V459.50 M177.75,437.50 H184.95 M177.75,459.50 H184.95" fill="none" stroke="#A3A500" stroke-width="1.35"/>
<path d="M217.10,431.72 V461.72 M213.50,431.72 H220.70 M213.50,461.72 H220.70" fill="none" stroke="#A3A500" stroke-width="1.35"/>
<path d="M252.85,432.96 V462.16 M249.25,432.96 H256.45 M249.25,462.16 H256.45" fill="none" stroke="#A3A500" stroke-width="1.35"/>
<path d="M288.60,433.61 V461.61 M285.00,433.61 H292.20 M285.00,461.61 H292.20" fill="none" stroke="#A3A500" stroke-width="1.35"/>
<path d="M324.35,444.40 V478.40 M320.75,444.40 H327.95 M320.75,478.40 H327.95" fill="none" stroke="#A3A500" stroke-width="1.35"/>
<path d="M360.10,436.29 V474.29 M356.50,436.29 H363.70 M356.50,474.29 H363.70" fill="none" stroke="#A3A500" stroke-width="1.35"/>
<path d="M395.85,447.43 V480.23 M392.25,447.43 H399.45 M392.25,480.23 H399.45" fill="none" stroke="#A3A500" stroke-width="1.35"/>
<path d="M431.60,484.34 V500.34 M428.00,484.34 H435.20 M428.00,500.34 H435.20" fill="none" stroke="#A3A500" stroke-width="1.35"/>
<path d="M503.10,468.38 V497.18 M499.50,468.38 H506.70 M499.50,497.18 H506.70" fill="none" stroke="#A3A500" stroke-width="1.35"/>
<path d="M538.85,484.34 V500.34 M535.25,484.34 H542.45 M535.25,500.34 H542.45" fill="none" stroke="#A3A500" stroke-width="1.35"/>
<path d="M574.60,451.57 V490.17 M571.00,451.57 H578.20 M571.00,490.17 H578.20" fill="none" stroke="#A3A500" stroke-width="1.35"/>
<path d="M610.35,469.09 V491.09 M606.75,469.09 H613.95 M606.75,491.09 H613.95" fill="none" stroke="#A3A500" stroke-width="1.35"/>
<path d="M74.10,477.34 V496.94 M70.50,477.34 H77.70 M70.50,496.94 H77.70" fill="none" stroke="#00BF7D" stroke-width="1.35"/>
<path d="M109.85,440.57 V469.97 M106.25,440.57 H113.45 M106.25,469.97 H113.45" fill="none" stroke="#00BF7D" stroke-width="1.35"/>
<path d="M181.35,435.91 V463.91 M177.75,435.91 H184.95 M177.75,463.91 H184.95" fill="none" stroke="#00BF7D" stroke-width="1.35"/>
<path d="M217.10,466.40 V486.40 M213.50,466.40 H220.70 M213.50,486.40 H220.70" fill="none" stroke="#00BF7D" stroke-width="1.35"/>
<path d="M252.85,417.50 V441.50 M249.25,417.50 H256.45 M249.25,441.50 H256.45" fill="none" stroke="#00BF7D" stroke-width="1.35"/>
<path d="M288.60,385.93 V413.93 M285.00,385.93 H292.20 M285.00,413.93 H292.20" fill="none" stroke="#00BF7D" stroke-width="1.35"/>
<path d="M324.35,425.90 V455.90 M320.75,425.90 H327.95 M320.75,455.90 H327.95" fill="none" stroke="#00BF7D" stroke-width="1.35"/>
<path d="M360.10,452.50 V478.50 M356.50,452.50 H363.70 M356.50,478.50 H363.70" fill="none" stroke="#00BF7D" stroke-width="1.35"/>
<path d="M395.85,461.73 V487.73 M392.25,461.73 H399.45 M392.25,487.73 H399.45" fill="none" stroke="#00BF7D" stroke-width="1.35"/>
<path d="M431.60,473.79 V495.79 M428.00,473.79 H435.20 M428.00,495.79 H435.20" fill="none" stroke="#00BF7D" stroke-width="1.35"/>
<path d="M467.35,500.24 V506.24 M463.75,500.24 H470.95 M463.75,506.24 H470.95" fill="none" stroke="#00BF7D" stroke-width="1.35"/>
<path d="M503.10,458.09 V491.09 M499.50,458.09 H506.70 M499.50,491.09 H506.70" fill="none" stroke="#00BF7D" stroke-width="1.35"/>
<path d="M74.10,449.83 V478.83 M70.50,449.83 H77.70 M70.50,478.83 H77.70" fill="none" stroke="#00B0F6" stroke-width="1.35"/>
<path d="M109.85,449.33 V479.33 M106.25,449.33 H113.45 M106.25,479.33 H113.45" fill="none" stroke="#00B0F6" stroke-width="1.35"/>
<path d="M181.35,457.60 V481.60 M177.75,457.60 H184.95 M177.75,481.60 H184.95" fill="none" stroke="#00B0F6" stroke-width="1.35"/>
<path d="M217.10,496.72 V504.72 M213.50,496.72 H220.70 M213.50,504.72 H220.70" fill="none" stroke="#00B0F6" stroke-width="1.35"/>
<path d="M252.85,388.84 V434.84 M249.25,388.84 H256.45 M249.25,434.84 H256.45" fill="none" stroke="#00B0F6" stroke-width="1.35"/>
<path d="M288.60,387.84 V435.84 M285.00,387.84 H292.20 M285.00,435.84 H292.20" fill="none" stroke="#00B0F6" stroke-width="1.35"/>
<path d="M324.35,326.78 V368.78 M320.75,326.78 H327.95 M320.75,368.78 H327.95" fill="none" stroke="#00B0F6" stroke-width="1.35"/>
<path d="M360.10,320.80 V354.80 M356.50,320.80 H363.70 M356.50,354.80 H363.70" fill="none" stroke="#00B0F6" stroke-width="1.35"/>
<path d="M395.85,326.30 V354.30 M392.25,326.30 H399.45 M392.25,354.30 H399.45" fill="none" stroke="#00B0F6" stroke-width="1.35"/>
<path d="M431.60,369.52 V405.52 M428.00,369.52 H435.20 M428.00,405.52 H435.20" fill="none" stroke="#00B0F6" stroke-width="1.35"/>
<path d="M467.35,426.54 V462.54 M463.75,426.54 H470.95 M463.75,462.54 H470.95" fill="none" stroke="#00B0F6" stroke-width="1.35"/>
<path d="M503.10,356.21 V408.21 M499.50,356.21 H506.70 M499.50,408.21 H506.70" fill="none" stroke="#00B0F6" stroke-width="1.35"/>
<path d="M538.85,354.21 V410.21 M535.25,354.21 H542.45 M535.25,410.21 H542.45" fill="none" stroke="#00B0F6" stroke-width="1.35"/>
<path d="M574.60,451.01 V481.01 M571.00,451.01 H578.20 M571.00,481.01 H578.20" fill="none" stroke="#00B0F6" stroke-width="1.35"/>
<path d="M610.35,435.09 V469.09 M606.75,435.09 H613.95 M606.75,469.09 H613.95" fill="none" stroke="#00B0F6" stroke-width="1.35"/>
<path d="M74.10,467.76 V492.76 M70.50,467.76 H77.70 M70.50,492.76 H77.70" fill="none" stroke="#E76BF3" stroke-width="1.35"/>
<path d="M109.85,414.90 V455.90 M106.25,414.90 H113.45 M106.25,455.90 H113.45" fill="none" stroke="#E76BF3" stroke-width="1.35"/>
<path d="M181.35,465.57 V487.57 M177.75,465.57 H184.95 M177.75,487.57 H184.95" fill="none" stroke="#E76BF3" stroke-width="1.35"/>
<path d="M217.10,472.00 V496.00 M213.50,472.00 H220.70 M213.50,496.00 H220.70" fill="none" stroke="#E76BF3" stroke-width="1.35"/>
<path d="M288.60,461.56 V487.56 M285.00,461.56 H292.20 M285.00,487.56 H292.20" fill="none" stroke="#E76BF3" stroke-width="1.35"/>
<path d="M324.35,435.42 V469.42 M320.75,435.42 H327.95 M320.75,469.42 H327.95" fill="none" stroke="#E76BF3" stroke-width="1.35"/>
<path d="M360.10,438.19 V482.19 M356.50,438.19 H363.70 M356.50,482.19 H363.70" fill="none" stroke="#E76BF3" stroke-width="1.35"/>
<path d="M395.85,380.10 V420.10 M392.25,380.10 H399.45 M392.25,420.10 H399.45" fill="none" stroke="#E76BF3" stroke-width="1.35"/>
<path d="M431.60,359.99 V393.99 M428.00,359.99 H435.20 M428.00,393.99 H435.20" fill="none" stroke="#E76BF3" stroke-width="1.35"/>
<path d="M467.35,306.25 V337.65 M463.75,306.25 H470.95 M463.75,337.65 H470.95" fill="none" stroke="#E76BF3" stroke-width="1.35"/>
<path d="M503.10,312.40 V346.40 M499.50,312.40 H506.70 M499.50,346.40 H506.70" fill="none" stroke="#E76BF3" stroke-width="1.35"/>
<path d="M538.85,385.13 V423.13 M535.25,385.13 H542.45 M535.25,423.13 H542.45" fill="none" stroke="#E76BF3" stroke-width="1.35"/>
<path d="M574.60,421.36 V464.36 M571.00,421.36 H578.20 M571.00,464.36 H578.20" fill="none" stroke="#E76BF3" stroke-width="1.35"/>
<path d="M610.35,423.04 V467.04 M606.75,423.04 H613.95 M606.75,467.04 H613.95" fill="none" stroke="#E76BF3" stroke-width="1.35"/>
<circle cx="74.10" cy="490.99" r="2.0" fill="#fff" stroke="#F8766D" stroke-width="1.1"/>
<circle cx="109.85" cy="453.60" r="2.0" fill="#fff" stroke="#F8766D" stroke-width="1.1"/>
<circle cx="181.35" cy="427.50" r="2.0" fill="#fff" stroke="#F8766D" stroke-width="1.1"/>
<circle cx="217.10" cy="460.89" r="2.0" fill="#fff" stroke="#F8766D" stroke-width="1.1"/>
<circle cx="252.85" cy="479.42" r="2.0" fill="#fff" stroke="#F8766D" stroke-width="1.1"/>
<circle cx="288.60" cy="499.04" r="2.0" fill="#fff" stroke="#F8766D" stroke-width="1.1"/>
<circle cx="324.35" cy="496.60" r="2.0" fill="#fff" stroke="#F8766D" stroke-width="1.1"/>
<circle cx="360.10" cy="469.60" r="2.0" fill="#fff" stroke="#F8766D" stroke-width="1.1"/>
<circle cx="395.85" cy="489.65" r="2.0" fill="#fff" stroke="#F8766D" stroke-width="1.1"/>
<circle cx="431.60" cy="480.43" r="2.0" fill="#fff" stroke="#F8766D" stroke-width="1.1"/>
<circle cx="467.35" cy="462.90" r="2.0" fill="#fff" stroke="#F8766D" stroke-width="1.1"/>
<circle cx="503.10" cy="498.71" r="2.0" fill="#fff" stroke="#F8766D" stroke-width="1.1"/>
<circle cx="538.85" cy="462.32" r="2.0" fill="#fff" stroke="#F8766D" stroke-width="1.1"/>
<circle cx="574.60" cy="478.25" r="2.0" fill="#fff" stroke="#F8766D" stroke-width="1.1"/>
<circle cx="610.35" cy="500.81" r="2.0" fill="#fff" stroke="#F8766D" stroke-width="1.1"/>
<circle cx="74.10" cy="472.38" r="2.0" fill="#fff" stroke="#A3A500" stroke-width="1.1"/>
<circle cx="109.85" cy="460.14" r="2.0" fill="#fff" stroke="#A3A500" stroke-width="1.1"/>
<circle cx="181.35" cy="448.50" r="2.0" fill="#fff" stroke="#A3A500" stroke-width="1.1"/>
<circle cx="217.10" cy="446.72" r="2.0" fill="#fff" stroke="#A3A500" stroke-width="1.1"/>
<circle cx="252.85" cy="447.56" r="2.0" fill="#fff" stroke="#A3A500" stroke-width="1.1"/>
<circle cx="288.60" cy="447.61" r="2.0" fill="#fff" stroke="#A3A500" stroke-width="1.1"/>
<circle cx="324.35" cy="461.40" r="2.0" fill="#fff" stroke="#A3A500" stroke-width="1.1"/>
<circle cx="360.10" cy="455.29" r="2.0" fill="#fff" stroke="#A3A500" stroke-width="1.1"/>
<circle cx="395.85" cy="463.83" r="2.0" fill="#fff" stroke="#A3A500" stroke-width="1.1"/>
<circle cx="431.60" cy="492.34" r="2.0" fill="#fff" stroke="#A3A500" stroke-width="1.1"/>
<circle cx="467.35" cy="508.10" r="2.0" fill="#fff" stroke="#A3A500" stroke-width="1.1"/>
<circle cx="503.10" cy="482.78" r="2.0" fill="#fff" stroke="#A3A500" stroke-width="1.1"/>
<circle cx="538.85" cy="492.34" r="2.0" fill="#fff" stroke="#A3A500" stroke-width="1.1"/>
<circle cx="574.60" cy="470.87" r="2.0" fill="#fff" stroke="#A3A500" stroke-width="1.1"/>
<circle cx="610.35" cy="480.09" r="2.0" fill="#fff" stroke="#A3A500" stroke-width="1.1"/>
<circle cx="74.10" cy="487.14" r="2.0" fill="#fff" stroke="#00BF7D" stroke-width="1.1"/>
<circle cx="109.85" cy="455.27" r="2.0" fill="#fff" stroke="#00BF7D" stroke-width="1.1"/>
<circle cx="181.35" cy="449.91" r="2.0" fill="#fff" stroke="#00BF7D" stroke-width="1.1"/>
<circle cx="217.10" cy="476.40" r="2.0" fill="#fff" stroke="#00BF7D" stroke-width="1.1"/>
<circle cx="252.85" cy="429.50" r="2.0" fill="#fff" stroke="#00BF7D" stroke-width="1.1"/>
<circle cx="288.60" cy="399.93" r="2.0" fill="#fff" stroke="#00BF7D" stroke-width="1.1"/>
<circle cx="324.35" cy="440.90" r="2.0" fill="#fff" stroke="#00BF7D" stroke-width="1.1"/>
<circle cx="360.10" cy="465.50" r="2.0" fill="#fff" stroke="#00BF7D" stroke-width="1.1"/>
<circle cx="395.85" cy="474.73" r="2.0" fill="#fff" stroke="#00BF7D" stroke-width="1.1"/>
<circle cx="431.60" cy="484.79" r="2.0" fill="#fff" stroke="#00BF7D" stroke-width="1.1"/>
<circle cx="467.35" cy="503.24" r="2.0" fill="#fff" stroke="#00BF7D" stroke-width="1.1"/>
<circle cx="503.10" cy="474.59" r="2.0" fill="#fff" stroke="#00BF7D" stroke-width="1.1"/>
<circle cx="538.85" cy="508.10" r="2.0" fill="#fff" stroke="#00BF7D" stroke-width="1.1"/>
<circle cx="574.60" cy="508.10" r="2.0" fill="#fff" stroke="#00BF7D" stroke-width="1.1"/>
<circle cx="610.35" cy="508.10" r="2.0" fill="#fff" stroke="#00BF7D" stroke-width="1.1"/>
<circle cx="74.10" cy="464.33" r="2.0" fill="#fff" stroke="#00B0F6" stroke-width="1.1"/>
<circle cx="109.85" cy="464.33" r="2.0" fill="#fff" stroke="#00B0F6" stroke-width="1.1"/>
<circle cx="181.35" cy="469.60" r="2.0" fill="#fff" stroke="#00B0F6" stroke-width="1.1"/>
<circle cx="217.10" cy="500.72" r="2.0" fill="#fff" stroke="#00B0F6" stroke-width="1.1"/>
<circle cx="252.85" cy="411.84" r="2.0" fill="#fff" stroke="#00B0F6" stroke-width="1.1"/>
<circle cx="288.60" cy="411.84" r="2.0" fill="#fff" stroke="#00B0F6" stroke-width="1.1"/>
<circle cx="324.35" cy="347.78" r="2.0" fill="#fff" stroke="#00B0F6" stroke-width="1.1"/>
<circle cx="360.10" cy="337.80" r="2.0" fill="#fff" stroke="#00B0F6" stroke-width="1.1"/>
<circle cx="395.85" cy="340.30" r="2.0" fill="#fff" stroke="#00B0F6" stroke-width="1.1"/>
<circle cx="431.60" cy="387.52" r="2.0" fill="#fff" stroke="#00B0F6" stroke-width="1.1"/>
<circle cx="467.35" cy="444.54" r="2.0" fill="#fff" stroke="#00B0F6" stroke-width="1.1"/>
<circle cx="503.10" cy="382.21" r="2.0" fill="#fff" stroke="#00B0F6" stroke-width="1.1"/>
<circle cx="538.85" cy="382.21" r="2.0" fill="#fff" stroke="#00B0F6" stroke-width="1.1"/>
<circle cx="574.60" cy="466.01" r="2.0" fill="#fff" stroke="#00B0F6" stroke-width="1.1"/>
<circle cx="610.35" cy="452.09" r="2.0" fill="#fff" stroke="#00B0F6" stroke-width="1.1"/>
<circle cx="74.10" cy="480.26" r="2.0" fill="#fff" stroke="#E76BF3" stroke-width="1.1"/>
<circle cx="109.85" cy="435.40" r="2.0" fill="#fff" stroke="#E76BF3" stroke-width="1.1"/>
<circle cx="181.35" cy="476.57" r="2.0" fill="#fff" stroke="#E76BF3" stroke-width="1.1"/>
<circle cx="217.10" cy="484.00" r="2.0" fill="#fff" stroke="#E76BF3" stroke-width="1.1"/>
<circle cx="288.60" cy="474.56" r="2.0" fill="#fff" stroke="#E76BF3" stroke-width="1.1"/>
<circle cx="324.35" cy="452.42" r="2.0" fill="#fff" stroke="#E76BF3" stroke-width="1.1"/>
<circle cx="360.10" cy="460.19" r="2.0" fill="#fff" stroke="#E76BF3" stroke-width="1.1"/>
<circle cx="395.85" cy="400.10" r="2.0" fill="#fff" stroke="#E76BF3" stroke-width="1.1"/>
<circle cx="431.60" cy="376.99" r="2.0" fill="#fff" stroke="#E76BF3" stroke-width="1.1"/>
<circle cx="467.35" cy="321.95" r="2.0" fill="#fff" stroke="#E76BF3" stroke-width="1.1"/>
<circle cx="503.10" cy="329.40" r="2.0" fill="#fff" stroke="#E76BF3" stroke-width="1.1"/>
<circle cx="538.85" cy="404.13" r="2.0" fill="#fff" stroke="#E76BF3" stroke-width="1.1"/>
<circle cx="574.60" cy="442.86" r="2.0" fill="#fff" stroke="#E76BF3" stroke-width="1.1"/>
<circle cx="610.35" cy="445.04" r="2.0" fill="#fff" stroke="#E76BF3" stroke-width="1.1"/>
<path d="M181.35,427.50 L217.10,446.72 L252.85,429.50 L360.10,337.80 L467.35,321.95" fill="none" stroke="#000" stroke-width="2.6" stroke-dasharray="3.9 11.7 15.6 11.7" stroke-dashoffset="0"/>
<circle cx="181.35" cy="427.50" r="3.9" fill="#fff" stroke="#000" stroke-width="2.7"/>
<circle cx="217.10" cy="446.72" r="3.9" fill="#fff" stroke="#000" stroke-width="2.7"/>
<circle cx="252.85" cy="429.50" r="3.9" fill="#fff" stroke="#000" stroke-width="2.7"/>
<circle cx="360.10" cy="337.80" r="3.9" fill="#fff" stroke="#000" stroke-width="2.7"/>
<circle cx="467.35" cy="321.95" r="3.9" fill="#fff" stroke="#000" stroke-width="2.7"/>
<line x1="146.0" y1="296" x2="146.0" y2="518.3" stroke="#1a1a1a" stroke-width="1.65"/>
<text x="261.70" y="544.80" font-size="12.3" fill="#000" text-anchor="start" textLength="161.1" lengthAdjust="spacingAndGlyphs" >Reported item relative to T1</text>
<text transform="translate(9.9,474.1) rotate(-90)" font-size="12.3" fill="#000" textLength="133" lengthAdjust="spacingAndGlyphs">Average T2 confidence</text>
<text x="652.70" y="379.00" font-size="12.5" fill="#000" text-anchor="start" textLength="27.9" lengthAdjust="spacingAndGlyphs" >Lags</text>
<line x1="653.6" y1="393.00" x2="663.4" y2="393.00" stroke="#F8766D" stroke-width="1.3"/>
<circle cx="658.5" cy="393.00" r="2.4" fill="#F8766D"/>
<text x="670.90" y="396.80" font-size="10.8" fill="#000" text-anchor="start" >1</text>
<line x1="653.6" y1="404.90" x2="663.4" y2="404.90" stroke="#A3A500" stroke-width="1.3"/>
<circle cx="658.5" cy="404.90" r="2.4" fill="#A3A500"/>
<text x="670.90" y="408.70" font-size="10.8" fill="#000" text-anchor="start" >2</text>
<line x1="653.6" y1="416.80" x2="663.4" y2="416.80" stroke="#00BF7D" stroke-width="1.3"/>
<circle cx="658.5" cy="416.80" r="2.4" fill="#00BF7D"/>
<text x="670.90" y="420.60" font-size="10.8" fill="#000" text-anchor="start" >3</text>
<line x1="653.6" y1="428.70" x2="663.4" y2="428.70" stroke="#00B0F6" stroke-width="1.3"/>
<circle cx="658.5" cy="428.70" r="2.4" fill="#00B0F6"/>
<text x="670.90" y="432.50" font-size="10.8" fill="#000" text-anchor="start" >6</text>
<line x1="653.6" y1="440.60" x2="663.4" y2="440.60" stroke="#E76BF3" stroke-width="1.3"/>
<circle cx="658.5" cy="440.60" r="2.4" fill="#E76BF3"/>
<text x="670.90" y="444.40" font-size="10.8" fill="#000" text-anchor="start" >9</text>
<text x="36.30" y="566.30" font-size="15.5" fill="#000" text-anchor="start" >C</text>
<path d="M36.40,573.60 V703.50 H344.20" fill="none" stroke="#474747" stroke-width="1.1"/>
<line x1="34" y1="693.40" x2="36.4" y2="693.40" stroke="#474747" stroke-width="1.1"/>
<text x="32.50" y="698.10" font-size="13" fill="#4D4D4D" text-anchor="end" >1.4</text>
<line x1="34" y1="662.55" x2="36.4" y2="662.55" stroke="#474747" stroke-width="1.1"/>
<text x="32.50" y="667.25" font-size="13" fill="#4D4D4D" text-anchor="end" >1.6</text>
<line x1="34" y1="631.70" x2="36.4" y2="631.70" stroke="#474747" stroke-width="1.1"/>
<text x="32.50" y="636.40" font-size="13" fill="#4D4D4D" text-anchor="end" >1.8</text>
<line x1="34" y1="600.85" x2="36.4" y2="600.85" stroke="#474747" stroke-width="1.1"/>
<text x="32.50" y="605.55" font-size="13" fill="#4D4D4D" text-anchor="end" >2.0</text>
<line x1="36.40" y1="703.5" x2="36.40" y2="706" stroke="#474747" stroke-width="1.1"/>
<text x="36.40" y="716.00" font-size="12.7" fill="#4D4D4D" text-anchor="middle" >0.05</text>
<line x1="95.82" y1="703.5" x2="95.82" y2="706" stroke="#474747" stroke-width="1.1"/>
<text x="95.82" y="716.00" font-size="12.7" fill="#4D4D4D" text-anchor="middle" >0.10</text>
<line x1="155.24" y1="703.5" x2="155.24" y2="706" stroke="#474747" stroke-width="1.1"/>
<text x="155.24" y="716.00" font-size="12.7" fill="#4D4D4D" text-anchor="middle" >0.15</text>
<line x1="214.66" y1="703.5" x2="214.66" y2="706" stroke="#474747" stroke-width="1.1"/>
<text x="214.66" y="716.00" font-size="12.7" fill="#4D4D4D" text-anchor="middle" >0.20</text>
<line x1="274.08" y1="703.5" x2="274.08" y2="706" stroke="#474747" stroke-width="1.1"/>
<text x="274.08" y="716.00" font-size="12.7" fill="#4D4D4D" text-anchor="middle" >0.25</text>
<line x1="333.50" y1="703.5" x2="333.50" y2="706" stroke="#474747" stroke-width="1.1"/>
<text x="333.50" y="716.00" font-size="12.7" fill="#4D4D4D" text-anchor="middle" >0.30</text>
<line x1="50.3" y1="668.3" x2="329.7" y2="579.6" stroke="#BDBDBD" stroke-width="1.6"/>
<circle cx="50.3" cy="658.4" r="3.4" fill="#000"/>
<circle cx="50.3" cy="697.5" r="3.4" fill="#000"/>
<circle cx="96" cy="630.2" r="3.4" fill="#000"/>
<circle cx="233.7" cy="608.3" r="3.4" fill="#000"/>
<circle cx="330.4" cy="584.2" r="3.4" fill="#000"/>
<text x="49.40" y="588.90" font-size="12.3" fill="#000" text-anchor="start" textLength="45.6" lengthAdjust="spacingAndGlyphs" >r= 0.897</text>
<text x="159.40" y="730.00" font-size="12.3" fill="#000" text-anchor="start" textLength="61.2" lengthAdjust="spacingAndGlyphs" >Frequency</text>
<text transform="translate(9.9,704.5) rotate(-90)" font-size="12.3" fill="#000" textLength="133" lengthAdjust="spacingAndGlyphs">Average T2 confidence</text>
<text x="376.20" y="566.20" font-size="15.5" fill="#000" text-anchor="start" >D</text>
<path d="M390.40,703.40 L390.40,684.87 L399.74,684.87 L399.74,703.40 Z M483.77,703.40 L483.77,684.87 L493.10,684.87 L493.10,703.40 Z M521.11,703.40 L521.11,666.34 L530.45,666.34 L530.45,703.40 Z M577.13,703.40 L577.13,684.87 L586.47,684.87 L586.47,684.87 L595.81,684.87 L595.81,684.87 L605.14,684.87 L605.14,647.81 L614.48,647.81 L614.48,647.81 L623.82,647.81 L623.82,629.28 L633.15,629.28 L633.15,666.34 L642.49,666.34 L642.49,573.69 L651.83,573.69 L651.83,610.75 L661.16,610.75 L661.16,684.87 L670.50,684.87 L670.50,703.40 Z " fill="#595959"/>
<path d="M376.60,573.70 V703.40 H684.50" fill="none" stroke="#474747" stroke-width="1.1"/>
<line x1="374" y1="703.40" x2="376.6" y2="703.40" stroke="#474747" stroke-width="1.1"/>
<text x="372.50" y="708.10" font-size="13" fill="#4D4D4D" text-anchor="end" >0</text>
<line x1="374" y1="666.34" x2="376.6" y2="666.34" stroke="#474747" stroke-width="1.1"/>
<text x="372.50" y="671.04" font-size="13" fill="#4D4D4D" text-anchor="end" >2</text>
<line x1="374" y1="629.28" x2="376.6" y2="629.28" stroke="#474747" stroke-width="1.1"/>
<text x="372.50" y="633.98" font-size="13" fill="#4D4D4D" text-anchor="end" >4</text>
<line x1="374" y1="592.22" x2="376.6" y2="592.22" stroke="#474747" stroke-width="1.1"/>
<text x="372.50" y="596.92" font-size="13" fill="#4D4D4D" text-anchor="end" >6</text>
<line x1="435.40" y1="703.4" x2="435.40" y2="706" stroke="#474747" stroke-width="1.1"/>
<text x="435.40" y="716.00" font-size="12.7" fill="#4D4D4D" text-anchor="middle" >0.25</text>
<line x1="513.40" y1="703.4" x2="513.40" y2="706" stroke="#474747" stroke-width="1.1"/>
<text x="513.40" y="716.00" font-size="12.7" fill="#4D4D4D" text-anchor="middle" >0.50</text>
<line x1="591.40" y1="703.4" x2="591.40" y2="706" stroke="#474747" stroke-width="1.1"/>
<text x="591.40" y="716.00" font-size="12.7" fill="#4D4D4D" text-anchor="middle" >0.75</text>
<line x1="669.40" y1="703.4" x2="669.40" y2="706" stroke="#474747" stroke-width="1.1"/>
<text x="669.40" y="716.00" font-size="12.7" fill="#4D4D4D" text-anchor="middle" >1.00</text>
<text x="497.60" y="730.30" font-size="12.3" fill="#000" text-anchor="start" textLength="64.6" lengthAdjust="spacingAndGlyphs" >Pearson's r</text>
<text transform="translate(361.2,672.6) rotate(-90)" font-size="12.3" fill="#000" textLength="67.8" lengthAdjust="spacingAndGlyphs">Participants</text>
</svg>
</body></html>
